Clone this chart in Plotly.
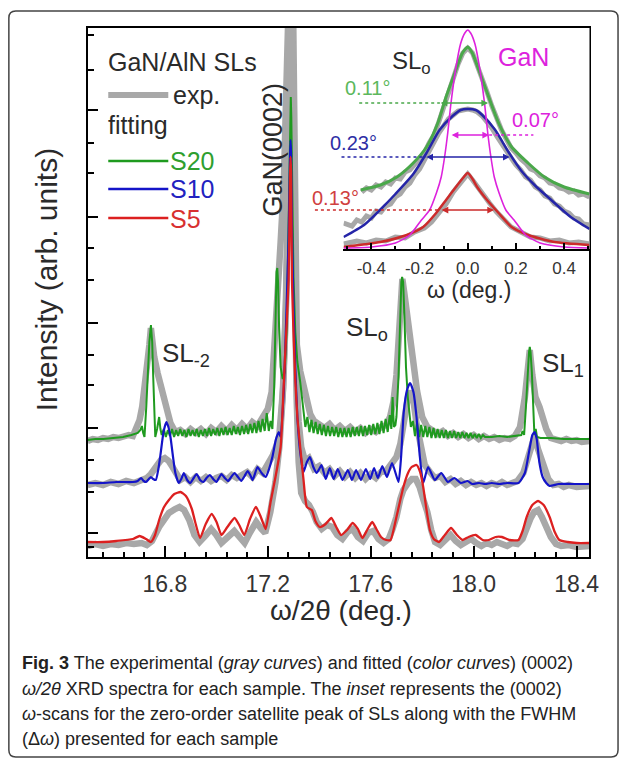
import plotly.graph_objects as go

W, H = 630, 759

# ---------------- main panel: omega/2theta scans (x in deg, y in arb. units) ----------------
exp_s20 = [(16.50,116),(16.52,118),(16.54,117),(16.56,119),(16.58,118),(16.60,120),(16.62,119),(16.64,121),
 (16.66,122),(16.676,121),(16.690,128),(16.702,137),(16.712,150),(16.721,167),(16.730,190),(16.740,212),
 (16.746,229),(16.752,215),(16.759,200),(16.772,184),(16.791,164),(16.810,147),(16.822,134),(16.841,125),
 (16.86,127),(16.88,123),(16.90,128),(16.92,124),(16.94,128),(16.96,123),(16.98,129),(17.00,125),(17.02,131),
 (17.04,126),(17.06,132),(17.08,127),(17.10,133),(17.12,128),(17.14,135),(17.16,131),(17.18,140),(17.20,148),
 (17.215,165),(17.228,230),(17.24,292),(17.25,315),(17.262,370),(17.272,450),(17.282,560),(17.29,640),
 (17.298,560),(17.303,380),(17.308,260),(17.313,212),(17.326,186),(17.339,172),(17.352,153),(17.365,143),
 (17.38,136),(17.40,132),(17.42,129),(17.44,133),(17.46,127),(17.48,131),(17.50,126),(17.52,130),(17.54,125),
 (17.56,129),(17.58,124),(17.60,128),(17.62,125),(17.64,130),(17.66,132),(17.675,140),(17.688,155),(17.70,182),
 (17.71,230),(17.718,268),(17.723,278),(17.73,265),(17.74,242),(17.75,226),(17.765,196),(17.78,166),(17.80,140),
 (17.82,130),(17.84,126),(17.86,123),(17.88,126),(17.90,121),(17.92,124),(17.94,120),(17.96,123),(17.98,119),
 (18.00,122),(18.02,118),(18.04,121),(18.06,118),(18.08,120),(18.10,117),(18.12,119),(18.14,118),(18.16,121),
 (18.18,130),(18.199,160),(18.21,195),(18.218,207),(18.228,182),(18.24,160),(18.256,150),(18.27,136),(18.282,128),
 (18.30,119),(18.32,118),(18.34,116),(18.36,118),(18.38,116),(18.40,117),(18.42,115),(18.45,116)]

exp_s10 = [(16.50,72),(16.53,74),(16.56,72),(16.59,75),(16.62,73),(16.65,76),(16.68,74),(16.71,78),(16.73,79),
 (16.746,83),(16.765,90),(16.785,97),(16.80,99),(16.815,96),(16.83,90),(16.845,82),(16.86,77),(16.88,80),(16.90,75),
 (16.92,80),(16.94,76),(16.96,80),(16.98,76),(17.00,79),(17.02,81),(17.04,77),(17.06,82),(17.08,79),(17.10,83),
 (17.12,85),(17.14,80),(17.16,88),(17.18,84),(17.20,92),(17.22,102),(17.235,112),(17.245,122),(17.26,170),
 (17.272,260),(17.282,400),(17.29,600),(17.298,420),(17.305,260),(17.312,180),(17.32,135),(17.33,110),(17.345,96),
 (17.36,99),(17.38,88),(17.40,91),(17.42,84),(17.44,88),(17.46,81),(17.48,86),(17.50,80),(17.52,85),(17.54,79),
 (17.56,84),(17.58,78),(17.60,83),(17.62,79),(17.64,85),(17.66,86),(17.68,93),(17.70,100),(17.715,113),(17.73,140),
 (17.745,160),(17.755,166),(17.765,158),(17.78,130),(17.795,106),(17.81,92),(17.83,85),(17.85,79),(17.87,81),
 (17.89,75),(17.91,78),(17.93,73),(17.95,76),(17.97,72),(17.99,75),(18.01,72),(18.03,74),(18.05,71),(18.07,74),
 (18.09,72),(18.11,75),(18.13,72),(18.15,74),(18.17,76),(18.193,84),(18.21,98),(18.225,115),(18.237,121),
 (18.25,108),(18.262,98),(18.276,90),(18.29,78),(18.31,72),(18.33,73),(18.35,70),(18.37,72),(18.40,70),(18.45,71)]

exp_s5 = [(16.50,11),(16.53,13),(16.56,11),(16.59,13),(16.62,12),(16.65,14),(16.68,13),(16.71,14),(16.73,12),
 (16.75,16),(16.778,30),(16.797,38),(16.816,44),(16.84,48),(16.857,50),(16.875,47),(16.895,37),(16.915,22),
 (16.935,15),(16.96,22),(16.98,28),(17.00,22),(17.02,14),(17.045,20),(17.07,26),(17.09,20),(17.11,14),(17.13,24),
 (17.155,35),(17.175,28),(17.19,24),(17.21,45),(17.23,75),(17.245,110),(17.258,160),(17.27,250),(17.28,380),
 (17.29,600),(17.298,400),(17.305,250),(17.312,160),(17.32,95),(17.33,64),(17.345,56),(17.36,52),(17.375,45),
 (17.39,35),(17.41,28),(17.43,32),(17.45,30),(17.47,22),(17.49,18),(17.51,25),(17.53,28),(17.55,20),(17.57,16),
 (17.59,24),(17.61,26),(17.63,18),(17.65,14),(17.67,18),(17.685,28),(17.70,40),(17.715,58),(17.727,67),(17.745,74),
 (17.76,78),(17.775,78),(17.79,70),(17.805,57),(17.82,45),(17.835,27),(17.85,15),(17.87,12),(17.89,18),(17.91,22),
 (17.93,16),(17.95,12),(17.97,15),(17.99,18),(18.01,14),(18.03,11),(18.05,14),(18.07,12),(18.09,15),(18.11,13),
 (18.13,11),(18.15,14),(18.17,13),(18.19,18),(18.205,30),(18.22,38),(18.235,45),(18.25,47),(18.265,40),(18.28,30),
 (18.30,20),(18.32,13),(18.34,11),(18.37,12),(18.40,10),(18.45,11)]

fit_s20 = [(16.500,117),(16.530,118),(16.561,118),(16.600,119),(16.638,120),(16.670,122),(16.695,124),(16.705,127),
 (16.711,131),(16.716,124),(16.721,120),(16.728,150),(16.733,180),(16.740,215),(16.746,232),(16.751,215),
 (16.755,180),(16.759,145),(16.763,120),(16.770,128),(16.778,140),(16.783,128),(16.788,122),
 (16.796,128),(16.804,120),(16.812,127),(16.820,121),(16.828,128),(16.836,120),(16.844,127),(16.852,121),(16.860,128),(16.868,121),
 (16.876,127),(16.884,120),(16.892,128),(16.900,121),(16.908,127),(16.916,121),(16.924,128),(16.932,120),(16.940,127),(16.948,121),
 (16.956,128),(16.964,121),(16.972,129),(16.980,121),(16.988,128),(16.996,122),(17.004,129),(17.012,121),(17.020,129),(17.028,122),
 (17.036,130),(17.044,122),(17.052,129),(17.060,122),(17.068,131),(17.076,123),(17.084,130),(17.092,122),(17.100,131),(17.108,123),
 (17.116,132),(17.124,123),(17.132,133),(17.140,124),(17.148,134),(17.156,124),(17.164,136),(17.172,125),(17.180,138),(17.188,126),
 (17.196,144),(17.204,126),(17.211,136),(17.218,128),(17.225,170),(17.230,240),(17.234,285),(17.237,289),(17.240,275),
 (17.244,230),(17.250,190),(17.258,178),(17.266,185),(17.274,230),(17.280,320),(17.2845,410),(17.2875,455),
 (17.2895,460),(17.2915,440),(17.295,360),(17.300,280),(17.307,225),(17.315,195),(17.326,175),(17.333,160),(17.339,146),
 (17.346,130),(17.354,140),(17.362,125),(17.370,137),(17.378,124),(17.386,135),(17.394,123),(17.402,133),(17.410,122),(17.418,132),
 (17.426,121),(17.434,131),(17.442,121),(17.450,130),(17.458,121),(17.466,130),(17.474,120),(17.482,129),(17.490,120),(17.498,129),
 (17.506,120),(17.514,129),(17.522,120),(17.530,130),(17.538,121),(17.546,130),(17.554,121),(17.562,131),(17.570,121),(17.578,131),
 (17.586,122),(17.594,132),(17.602,122),(17.610,133),(17.618,123),(17.626,134),(17.634,123),(17.642,136),(17.650,124),(17.658,138),
 (17.666,125),(17.674,142),
 (17.680,128),(17.685,160),(17.690,130),(17.696,132),(17.700,140),(17.708,180),(17.714,240),(17.719,275),(17.722,280),
 (17.726,275),(17.731,240),(17.737,190),(17.744,160),(17.750,144),(17.756,130),
 (17.764,136),(17.772,121),(17.780,134),(17.788,120),(17.796,132),(17.804,120),(17.812,131),(17.820,120),(17.828,130),(17.836,119),
 (17.844,129),(17.852,119),(17.860,128),(17.868,119),(17.876,127),(17.884,119),(17.892,127),(17.900,119),(17.908,126),(17.916,119),
 (17.924,126),(17.932,119),(17.940,125),(17.948,119),(17.956,125),(17.964,119),(17.972,124),(17.980,119),(17.988,124),(17.996,119),
 (18.004,123),(18.012,119),(18.020,123),(18.028,119),(18.036,122),(18.044,120),
 (18.070,120),(18.100,121),(18.130,120),(18.160,121),(18.185,122),(18.190,126),(18.196,122),(18.203,150),(18.210,185),
 (18.215,205),(18.218,210),(18.221,205),(18.226,185),(18.231,150),(18.236,122),(18.241,128),(18.246,120),(18.260,119),
 (18.300,119),(18.350,118),(18.400,118),(18.450,118)]

fit_s10 = [(16.497,74),(16.560,74),(16.612,75),(16.676,75),(16.695,76),(16.708,79),(16.718,76),(16.727,75),(16.738,78),
 (16.746,80),(16.755,78),(16.765,77),(16.775,88),(16.784,104),(16.795,125),(16.806,135),(16.814,130),(16.822,120),
 (16.832,100),(16.841,84),(16.854,74),(16.864,78),(16.874,84),(16.887,77),(16.899,74),(16.912,79),(16.924,83),
 (16.937,77),(16.950,75),(16.962,79),(16.975,82),(16.988,78),(17.001,75),(17.010,79),(17.020,83),(17.033,79),
 (17.046,76),(17.058,80),(17.071,84),(17.084,80),(17.097,76),(17.110,81),(17.122,86),(17.132,82),(17.141,77),
 (17.150,83),(17.160,90),(17.176,84),(17.192,80),(17.205,88),(17.218,100),(17.232,118),(17.243,125),(17.250,120),
 (17.262,165),(17.272,240),(17.281,320),(17.2865,400),(17.2885,417),(17.2905,405),(17.294,330),(17.300,250),
 (17.307,190),(17.315,140),(17.326,105),(17.339,85),(17.352,95),(17.364,100),(17.377,90),(17.390,84),(17.400,88),
 (17.409,92),(17.425,78),(17.441,89),(17.456,78),(17.472,88),(17.490,77),(17.511,87),(17.527,77),(17.543,87),
 (17.562,77),(17.581,88),(17.598,78),(17.613,89),(17.628,79),(17.645,91),(17.663,80),(17.683,94),(17.708,75),
 (17.718,100),(17.728,144),(17.741,167),(17.753,174),(17.766,165),(17.778,140),(17.791,100),(17.804,74),(17.823,90),
 (17.849,77),(17.874,84),(17.900,75),(17.925,79),(17.950,74),(17.976,76),(17.995,73),(18.021,74),(18.045,73),
 (18.070,74),(18.100,73),(18.130,74),(18.174,74),(18.199,84),(18.215,105),(18.228,122),(18.237,125),(18.245,118),
 (18.255,95),(18.268,80),(18.282,74),(18.295,71),(18.330,73),(18.380,73),(18.450,73)]

fit_s5 = [(16.497,15),(16.560,15),(16.612,16),(16.676,18),(16.702,21),(16.727,18),(16.746,15),(16.762,22),(16.778,37),
 (16.797,50),(16.816,57),(16.837,63),(16.861,65),(16.882,61),(16.905,48),(16.918,35),(16.937,19),(16.959,33),
 (16.982,43),(17.001,35),(17.020,22),(17.043,30),(17.071,39),(17.089,32),(17.109,22),(17.131,38),(17.154,50),
 (17.173,40),(17.192,28),(17.211,55),(17.230,80),(17.250,110),(17.260,160),(17.269,210),(17.281,277),(17.2865,380),
 (17.2885,400),(17.2905,385),(17.294,277),(17.300,225),(17.307,177),(17.315,140),(17.326,110),(17.339,77),
 (17.352,50),(17.371,47),(17.385,36),(17.402,30),(17.425,33),(17.447,39),(17.466,30),(17.485,22),(17.508,27),
 (17.530,34),(17.550,28),(17.568,19),(17.588,28),(17.606,35),(17.622,28),(17.640,20),(17.660,17),(17.677,17),
 (17.700,40),(17.727,70),(17.745,84),(17.759,90),(17.778,92),(17.792,85),(17.804,70),(17.818,45),(17.830,27),
 (17.845,18),(17.865,15),(17.888,22),(17.912,29),(17.935,22),(17.957,17),(17.980,20),(18.008,22),(18.035,17),
 (18.059,17),(18.085,20),(18.110,20),(18.140,17),(18.174,17),(18.190,26),(18.206,40),(18.228,52),(18.250,56),
 (18.272,52),(18.295,40),(18.315,25),(18.333,17),(18.365,15),(18.400,14),(18.448,14)]

main_tick_vals = [16.8, 17.2, 17.6, 18.0, 18.4]
main_tick_text = ["16.8", "17.2", "17.6", "18.0", "18.4"]
main_minor_vals = [16.56, 16.64, 16.72, 16.88, 16.96, 17.04, 17.12, 17.28, 17.36, 17.44, 17.52,
                   17.68, 17.76, 17.84, 17.92, 18.08, 18.16, 18.24, 18.32]
y_major_vals = [24, 129, 234, 340, 447]
y_minor_vals = [10, 65, 97, 172, 202, 277, 309, 384, 414, 487, 522]

# ---------------- inset: omega scans of SL0 ----------------
in_exp_s20 = [(-0.44,57),(-0.42,61),(-0.40,59),(-0.38,64),(-0.36,62),(-0.34,67),(-0.32,65),(-0.30,71),(-0.28,70),
 (-0.26,77),(-0.24,79),(-0.22,85),(-0.20,90),(-0.18,96),(-0.16,106),(-0.14,114),(-0.12,127),(-0.10,142),(-0.08,158),
 (-0.06,172),(-0.04,185),(-0.02,196),(0.0,201),(0.02,196),(0.04,184),(0.06,171),(0.08,157),(0.10,143),(0.12,130),
 (0.14,119),(0.16,110),(0.18,101),(0.20,96),(0.22,90),(0.24,86),(0.26,80),(0.28,78),(0.30,73),(0.32,71),(0.34,66),
 (0.36,65),(0.38,61),(0.40,60),(0.42,57),(0.44,58),(0.46,54),(0.48,55),(0.505,52)]
in_exp_s10 = [(-0.515,26),(-0.48,23),(-0.46,29),(-0.44,27),(-0.42,33),(-0.40,31),(-0.38,38),(-0.36,37),(-0.34,43),
 (-0.32,45),(-0.30,52),(-0.28,55),(-0.26,62),(-0.24,66),(-0.22,74),(-0.20,80),(-0.18,89),(-0.16,97),(-0.14,107),
 (-0.12,116),(-0.10,124),(-0.08,130),(-0.06,134),(-0.04,138),(-0.02,139),(0.0,140),(0.02,139),(0.04,137),(0.06,133),
 (0.08,127),(0.10,121),(0.12,113),(0.14,105),(0.16,98),(0.18,91),(0.20,84),(0.22,79),(0.24,72),(0.26,69),(0.28,62),
 (0.30,59),(0.32,53),(0.34,51),(0.36,45),(0.38,43),(0.40,38),(0.42,36),(0.44,31),(0.46,30),(0.48,25),(0.505,24)]
in_exp_s5 = [(-0.515,5),(-0.46,8),(-0.42,6),(-0.38,9),(-0.34,8),(-0.30,12),(-0.26,11),(-0.22,17),(-0.18,21),
 (-0.15,27),(-0.12,36),(-0.09,45),(-0.06,57),(-0.04,63),(-0.02,70),(0.0,75),(0.02,69),(0.04,62),(0.06,55),
 (0.09,46),(0.12,37),(0.15,29),(0.18,22),(0.22,17),(0.26,12),(0.30,11),(0.34,8),(0.38,9),(0.42,6),(0.46,7),(0.505,5)]
in_fit_s20 = [(-0.444,59),(-0.362,64),(-0.294,72),(-0.226,86),(-0.171,102),(-0.124,126),(-0.090,152),(-0.049,179),
 (-0.022,196),(0.0,202),(0.019,196),(0.046,179),(0.087,152),(0.128,126),(0.182,102),(0.25,86),(0.318,72),
 (0.40,62),(0.505,55)]
in_fit_s10 = [(-0.515,12),(-0.43,24),(-0.36,40),(-0.30,55),(-0.226,75),(-0.171,96),(-0.117,119),(-0.063,133),
 (-0.029,139),(0.0,140),(0.033,139),(0.06,134),(0.114,119),(0.169,97),(0.223,78),(0.277,64),(0.346,49),
 (0.427,32),(0.505,20)]
in_fit_s5 = [(-0.515,2),(-0.362,7),(-0.253,14),(-0.185,22),(-0.131,36),(-0.090,49),(-0.049,62),(-0.02,71),(0.0,76),
 (0.02,70),(0.039,62),(0.080,49),(0.128,36),(0.182,22),(0.25,14),(0.359,7),(0.505,4)]
in_gan = [(-0.515,1),(-0.40,2),(-0.30,6),(-0.24,14),(-0.192,29),(-0.158,39),(-0.130,56),(-0.110,72),(-0.096,92),
 (-0.083,116),(-0.070,145),(-0.050,180),(-0.030,205),(-0.012,216),(0.0,219),(0.012,216),(0.030,205),(0.050,180),
 (0.070,145),(0.083,116),(0.096,92),(0.110,72),(0.130,56),(0.158,39),(0.192,29),(0.24,14),(0.30,6),(0.40,2),(0.505,1)]
inset_tick_vals = [-0.4, -0.2, 0.0, 0.2, 0.4]
inset_tick_text = ["-0.4", "-0.2", "0.0", "0.2", "0.4"]
inset_minor_vals = [-0.5, -0.3, -0.1, 0.1, 0.3, 0.5]

GRAY = "#a8a8a8"
GREEN, BLUE, RED = "#1f9a1f", "#1414c8", "#dc2020"
IGREEN, IBLUE, IRED, MAG = "#4aa84a", "#2525a8", "#cc2b2b", "#dd22dd"
TXT = "#2a2a2a"
FONT = "Liberation Sans"


def X(px):
    return px / W


def Y(py):
    return 1 - py / H


def xs(s):
    return [p[0] for p in s]


def ys(s):
    return [p[1] for p in s]


fig = go.Figure()
for s in (exp_s20, exp_s10, exp_s5):
    fig.add_trace(go.Scatter(x=xs(s), y=ys(s), mode="lines", line=dict(color=GRAY, width=6.5),
                             xaxis="x", yaxis="y", hoverinfo="skip"))
fig.add_trace(go.Scatter(x=xs(fit_s20), y=ys(fit_s20), mode="lines", line=dict(color=GREEN, width=2)))
fig.add_trace(go.Scatter(x=xs(fit_s10), y=ys(fit_s10), mode="lines",
                         line=dict(color=BLUE, width=2.2, shape="spline", smoothing=0.5)))
fig.add_trace(go.Scatter(x=xs(fit_s5), y=ys(fit_s5), mode="lines",
                         line=dict(color=RED, width=2.3, shape="spline", smoothing=0.5)))

for s in (in_exp_s20, in_exp_s10, in_exp_s5):
    fig.add_trace(go.Scatter(x=xs(s), y=ys(s), mode="lines", line=dict(color=GRAY, width=5),
                             xaxis="x2", yaxis="y2"))
for s, c, w in ((in_fit_s20, IGREEN, 3), (in_fit_s10, IBLUE, 2.5), (in_fit_s5, IRED, 2.5), (in_gan, MAG, 1.6)):
    fig.add_trace(go.Scatter(x=xs(s), y=ys(s), mode="lines", xaxis="x2", yaxis="y2",
                             line=dict(color=c, width=w, shape="spline", smoothing=0.6)))

axis_common = dict(showline=True, linecolor="black", linewidth=2, ticks="inside", tickcolor="black",
                   tickwidth=1.5, showgrid=False, zeroline=False)

fig.update_layout(
    width=W, height=H, autosize=False, margin=dict(l=0, r=0, t=0, b=0),
    paper_bgcolor="white", plot_bgcolor="white", showlegend=False,
    font=dict(family=FONT, color=TXT),
    xaxis=dict(domain=[X(89), X(599)], range=[16.5, 18.45], anchor="y", mirror=True,
               tickmode="array", tickvals=main_tick_vals, ticktext=main_tick_text, ticklen=11,
               tickfont=dict(size=23, color="#333"), ticklabelstandoff=5,
               minor=dict(tickmode="array", tickvals=main_minor_vals, ticklen=5, ticks="inside",
                          tickcolor="black", tickwidth=1.5), **axis_common),
    yaxis=dict(domain=[Y(557), Y(28)], range=[0, 529], anchor="x", mirror=True,
               tickmode="array", tickvals=y_major_vals, ticklen=10, showticklabels=False,
               minor=dict(tickmode="array", tickvals=y_minor_vals, ticklen=6, ticks="inside",
                          tickcolor="black", tickwidth=1.5), **axis_common),
    xaxis2=dict(domain=[X(349), X(599)], range=[-0.5155, 0.505], anchor="y2",
                tickmode="array", tickvals=inset_tick_vals, ticktext=inset_tick_text, ticklen=6,
                tickfont=dict(size=17, color="#333"), ticklabelstandoff=3,
                minor=dict(tickmode="array", tickvals=inset_minor_vals, ticklen=3, ticks="inside",
                           tickcolor="black", tickwidth=1.5), **axis_common),
    yaxis2=dict(domain=[Y(249), Y(28)], range=[0, 221], anchor="x2", visible=False),
)

shapes = []
r = 7
L, T, R, B = 9, 11, 628, 757
path = (f"M {X(L+r)},{Y(T)} L {X(R-r)},{Y(T)} Q {X(R)},{Y(T)} {X(R)},{Y(T+r)} "
        f"L {X(R)},{Y(B-r)} Q {X(R)},{Y(B)} {X(R-r)},{Y(B)} L {X(L+r)},{Y(B)} "
        f"Q {X(L)},{Y(B)} {X(L)},{Y(B-r)} L {X(L)},{Y(T+r)} Q {X(L)},{Y(T)} {X(L+r)},{Y(T)} Z")
shapes.append(dict(type="path", path=path, xref="paper", yref="paper", line=dict(color="#444", width=1.5)))

# legend lines
for py, c, w in ((95, GRAY, 6), (161, GREEN, 2.5), (189, BLUE, 2.5), (218, RED, 2.5)):
    shapes.append(dict(type="line", xref="paper", yref="paper", x0=X(110), x1=X(171), y0=Y(py), y1=Y(py),
                       line=dict(color=c, width=w)))
# FWHM dotted guides in inset
for x0, x1, py, c in ((365, 447, 103, IGREEN), (497, 542, 135, MAG), (347, 433, 157, IBLUE), (320, 448, 210, IRED)):
    shapes.append(dict(type="line", xref="paper", yref="paper", x0=X(x0), x1=X(x1), y0=Y(py), y1=Y(py),
                       line=dict(color=c, width=1.5, dash="dot")))
fig.update_layout(shapes=shapes)

ann = []


def txt(t, px, py, size, color=TXT, xanchor="left", angle=0):
    ann.append(dict(text=t, x=X(px), y=Y(py), xref="paper", yref="paper", showarrow=False,
                    xanchor=xanchor, yanchor="middle", textangle=angle,
                    font=dict(size=size, color=color, family=FONT)))


txt("GaN/AlN SLs", 108, 62, 25)
txt("exp.", 174, 95, 25)
txt("fitting", 108, 125, 25)
txt("S20", 171, 161, 25, "#2f9f2f")
txt("S10", 171, 189, 25, "#2222c0")
txt("S5", 171, 219, 25, "#d83030")
txt("GaN(0002)", 277, 150, 27, xanchor="center", angle=-90)
txt("SL<sub>-2</sub>", 163, 354, 26)
txt("SL<sub>o</sub>", 350, 328, 26)
txt("SL<sub>1</sub>", 549, 364, 26)
txt("SL<sub>o</sub>", 396, 62, 24)
txt("GaN", 532, 57, 25, MAG, xanchor="center")
txt("0.11°", 373, 88, 20, "#5cb85c", xanchor="center")
txt("0.07°", 544, 120, 20, MAG, xanchor="center")
txt("0.23°", 359, 143, 20, "#2e2ea5", xanchor="center")
txt("0.13°", 341, 198, 20, "#d04040", xanchor="center")
txt("Intensity (arb. units)", 48, 280, 30, xanchor="center", angle=-90)
txt("ω/2θ (deg.)", 346, 610, 28, xanchor="center")
txt("ω (deg.)", 477, 290, 23, xanchor="center")

cap = [
    "<b>Fig. 3</b> The experimental (<i>gray curves</i>) and fitted (<i>color curves</i>) (0002)",
    "<i>ω/2θ</i> XRD spectra for each sample. The <i>inset</i> represents the (0002)",
    "<i>ω</i>-scans for the zero-order satellite peak of SLs along with the FWHM",
    "(Δ<i>ω</i>) presented for each sample",
]
for line, py in zip(cap, (663, 689, 714, 739)):
    txt(line, 20, py, 18, "#222")

# FWHM double arrows in inset
for x0, x1, py, c in ((447, 496, 103, IGREEN), (458, 497, 135, MAG), (433, 518, 157, IBLUE), (448, 502, 210, IRED)):
    ann.append(dict(text="", x=X(x1), y=Y(py), xref="paper", yref="paper", ax=-(x1 - x0), ay=0,
                    showarrow=True, arrowhead=2, arrowside="end+start", arrowsize=0.9, arrowwidth=1.5,
                    arrowcolor=c, startarrowhead=2, startarrowsize=0.9))
fig.update_layout(annotations=ann)

fig.write_html("out.html", config={"displayModeBar": False},
               post_script="document.body.style.margin='0px';document.body.style.padding='0px';")
